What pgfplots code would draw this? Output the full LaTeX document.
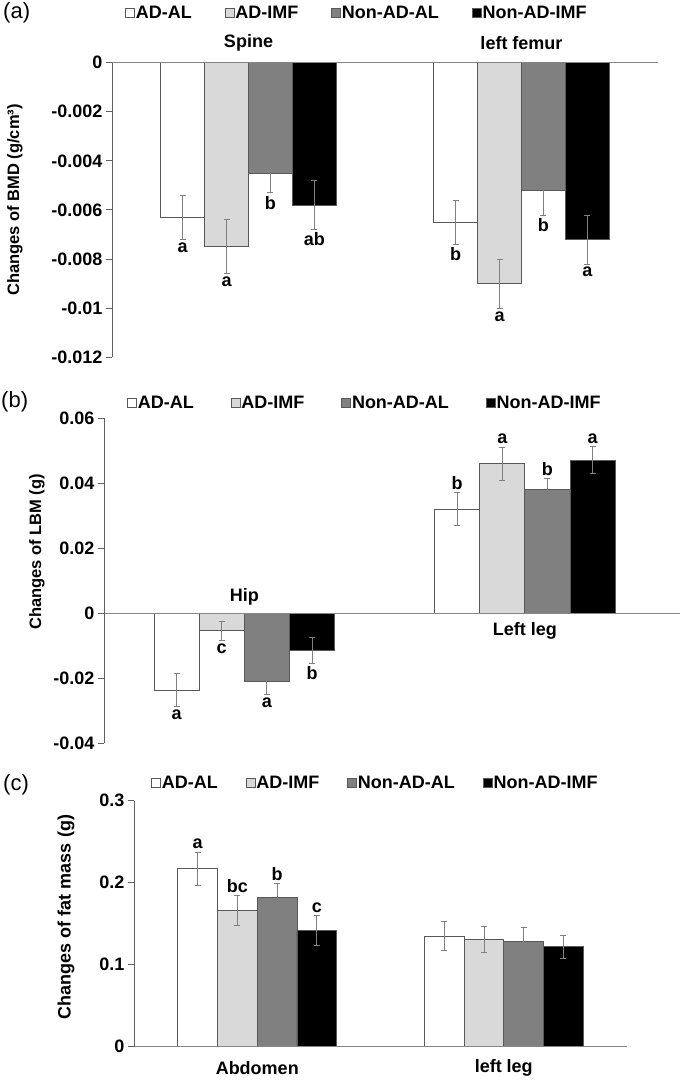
\documentclass[border=0pt]{standalone}
\usepackage{pgfplots}
\pgfplotsset{compat=1.18}
\usepackage{fontspec}
\setmainfont{Liberation Sans}
\definecolor{lgray}{HTML}{D9D9D9}
\definecolor{mgray}{HTML}{808080}
\definecolor{axcol}{HTML}{868686}
\definecolor{tkcol}{HTML}{606060}
\definecolor{edge}{HTML}{595959}
\newcommand{\fs}[1]{\fontsize{#1}{#1}\selectfont}
\pgfplotsset{
  panel/.style={
    scale only axis, anchor=south west,
    axis line style={draw=none},
    xtick=\empty,
    scaled y ticks=false,
    ytick pos=left,
    ytick style={draw=tkcol, line width=1pt},
    tick align=outside, major tick length=6pt,
    yticklabel style={font=\bfseries\fs{18}, text=black},
    clip=false,
    legend columns=4,
    legend style={draw=none, fill=none, anchor=west, font=\bfseries\fs{18}, inner sep=0pt, nodes={inner sep=1pt}},
  },
  bars/.style={ybar, bar width=0.161, bar shift=0pt, line width=0.8pt, draw=edge,
    error bars/y dir=both, error bars/y explicit,
    error bars/error mark=|,
    error bars/error bar style={draw=mgray, line width=0.8pt},
    error bars/error mark options={draw=mgray, line width=0.8pt, mark size=3pt},
    legend image code/.code={\draw[##1, line width=0.6pt] (0pt,-4.5pt) rectangle (9pt,4.5pt);}},
}
\tikzset{
  labb/.style={font=\bfseries\fs{18}, inner sep=0pt, anchor=north, yshift=-3pt},
  laba/.style={font=\bfseries\fs{18}, inner sep=0pt, anchor=south, yshift=3pt},
  cat/.style={font=\bfseries\fs{18}, inner sep=0pt},
  axl/.style={draw=axcol, line width=0.8pt},
  yl/.style={draw=tkcol, line width=1pt},
}
\begin{document}
\begin{tikzpicture}[x=1pt,y=1pt]
\useasboundingbox (0,0) rectangle (688,1085);

% ---------------- Panel (a)
\begin{axis}[panel, at={(112pt,727.7pt)}, width=546pt, height=294.6pt,
  xmin=0.5, xmax=2.5, ymin=-0.012, ymax=0,
  ytick={-0.012,-0.01,-0.008,-0.006,-0.004,-0.002,0},
  yticklabels={-0.012,-0.01,-0.008,-0.006,-0.004,-0.002,0},
  legend style={at={(0.0238,1.1687)}, /tikz/every even column/.append style={column sep=32pt}},
]
\addplot[bars, fill=white] coordinates {(0.7585,-0.0063) +- (0,0.0009) (1.7585,-0.0065) +- (0,0.0009)};
\addlegendentry{AD-AL}
\addplot[bars, fill=lgray] coordinates {(0.9195,-0.0075) +- (0,0.0011) (1.9195,-0.0090) +- (0,0.0010)};
\addlegendentry{AD-IMF}
\addplot[bars, fill=mgray] coordinates {(1.0805,-0.0045) +- (0,0.0008) (2.0805,-0.0052) +- (0,0.0010)};
\addlegendentry{Non-AD-AL}
\addplot[bars, fill=black] coordinates {(1.2415,-0.0058) +- (0,0.0010) (2.2415,-0.0072) +- (0,0.0010)};
\addlegendentry{Non-AD-IMF}
\draw[axl] (axis cs:0.5,0) -- (axis cs:2.5,0);
\draw[yl] (axis cs:0.5,-0.012) -- (axis cs:0.5,0);
\pgfplotsinvokeforeach{-0.012,-0.01,-0.008,-0.006,-0.004,-0.002,0}{\draw[yl] (axis cs:0.5,#1) -- ++(-6pt,0pt);}
\node[labb] at (axis cs:0.7585,-0.0072) {a};
\node[labb] at (axis cs:0.9195,-0.0086) {a};
\node[labb] at (axis cs:1.0805,-0.0053) {b};
\node[labb] at (axis cs:1.2415,-0.0068) {ab};
\node[labb] at (axis cs:1.7585,-0.0074) {b};
\node[labb] at (axis cs:1.9195,-0.0100) {a};
\node[labb] at (axis cs:2.0805,-0.0062) {b};
\node[labb] at (axis cs:2.2415,-0.0082) {a};
\node[cat, yshift=19.7pt] at (axis cs:1,0) {Spine};
\node[cat, yshift=19.7pt] at (axis cs:2,0) {left femur};
\end{axis}

% ---------------- Panel (b)
\begin{axis}[panel, at={(104pt,341.7pt)}, width=576pt, height=325pt,
  xmin=0.5, xmax=2.553, ymin=-0.04, ymax=0.06,
  ytick={-0.04,-0.02,0,0.02,0.04,0.06},
  yticklabels={-0.04,-0.02,0,0.02,0.04,0.06},
  legend style={at={(0.040,1.047)}, /tikz/every even column/.append style={column sep=36pt}},
]
\addplot[bars, fill=white] coordinates {(0.7585,-0.0236) +- (0,0.0050) (1.7585,0.0321) +- (0,0.0050)};
\addlegendentry{AD-AL}
\addplot[bars, fill=lgray] coordinates {(0.9195,-0.0054) +- (0,0.0030) (1.9195,0.0460) +- (0,0.0051)};
\addlegendentry{AD-IMF}
\addplot[bars, fill=mgray] coordinates {(1.0805,-0.0210) +- (0,0.0039) (2.0805,0.0381) +- (0,0.0034)};
\addlegendentry{Non-AD-AL}
\addplot[bars, fill=black] coordinates {(1.2415,-0.0115) +- (0,0.0040) (2.2415,0.0471) +- (0,0.0041)};
\addlegendentry{Non-AD-IMF}
\draw[axl] (axis cs:0.5,0) -- (axis cs:2.553,0);
\draw[yl] (axis cs:0.5,-0.04) -- (axis cs:0.5,0.06);
\pgfplotsinvokeforeach{-0.04,-0.02,0,0.02,0.04,0.06}{\draw[yl] (axis cs:0.5,#1) -- ++(-6pt,0pt);}
\node[labb] at (axis cs:0.7585,-0.0286) {a};
\node[labb] at (axis cs:0.9195,-0.0084) {c};
\node[labb] at (axis cs:1.0805,-0.0249) {a};
\node[labb] at (axis cs:1.2415,-0.0155) {b};
\node[laba] at (axis cs:1.7585,0.0371) {b};
\node[laba] at (axis cs:1.9195,0.0511) {a};
\node[laba] at (axis cs:2.0805,0.0415) {b};
\node[laba] at (axis cs:2.2415,0.0512) {a};
\node[cat, yshift=16.6pt] at (axis cs:1,0) {Hip};
\node[cat, yshift=-17.7pt] at (axis cs:2,0) {Left leg};
\end{axis}

% ---------------- Panel (c)
\begin{axis}[panel, at={(134pt,38.3pt)}, width=493pt, height=246pt,
  xmin=0.5, xmax=2.5, ymin=0, ymax=0.3,
  ytick={0,0.1,0.2,0.3},
  yticklabels={0,0.1,0.2,0.3},
  legend style={at={(0.0345,1.072)}, /tikz/every even column/.append style={column sep=27pt}},
]
\addplot[bars, fill=white] coordinates {(0.7585,0.217) +- (0,0.020) (1.7585,0.135) +- (0,0.018)};
\addlegendentry{AD-AL}
\addplot[bars, fill=lgray] coordinates {(0.9195,0.166) +- (0,0.018) (1.9195,0.131) +- (0,0.016)};
\addlegendentry{AD-IMF}
\addplot[bars, fill=mgray] coordinates {(1.0805,0.182) +- (0,0.017) (2.0805,0.128) +- (0,0.018)};
\addlegendentry{Non-AD-AL}
\addplot[bars, fill=black] coordinates {(1.2415,0.142) +- (0,0.018) (2.2415,0.122) +- (0,0.014)};
\addlegendentry{Non-AD-IMF}
\draw[axl] (axis cs:0.5,0) -- (axis cs:2.5,0);
\draw[yl] (axis cs:0.5,0) -- (axis cs:0.5,0.3);
\pgfplotsinvokeforeach{0,0.1,0.2,0.3}{\draw[yl] (axis cs:0.5,#1) -- ++(-6pt,0pt);}
\node[laba] at (axis cs:0.7585,0.237) {a};
\node[laba] at (axis cs:0.9195,0.184) {bc};
\node[laba] at (axis cs:1.0805,0.199) {b};
\node[laba] at (axis cs:1.2415,0.160) {c};
\node[cat, yshift=-21.3pt] at (axis cs:1,0) {Abdomen};
\node[cat, yshift=-21.3pt] at (axis cs:2,0) {left leg};
\end{axis}

% ---------------- outer labels
\node[anchor=west, inner sep=0pt, font=\fs{22}] at (3,1072) {(a)};
\node[anchor=west, inner sep=0pt, font=\fs{22}] at (1,683) {(b)};
\node[anchor=west, inner sep=0pt, font=\fs{22}] at (3,300) {(c)};
\node[rotate=90, inner sep=0pt, font=\bfseries\fs{16.5}] at (15,885) {Changes of BMD (g/cm³)};
\node[rotate=90, inner sep=0pt, font=\bfseries\fs{16.5}] at (37,533) {Changes of LBM (g)};
\node[rotate=90, inner sep=0pt, font=\bfseries\fs{18}] at (66,168) {Changes of fat mass (g)};
\end{tikzpicture}
\end{document}
